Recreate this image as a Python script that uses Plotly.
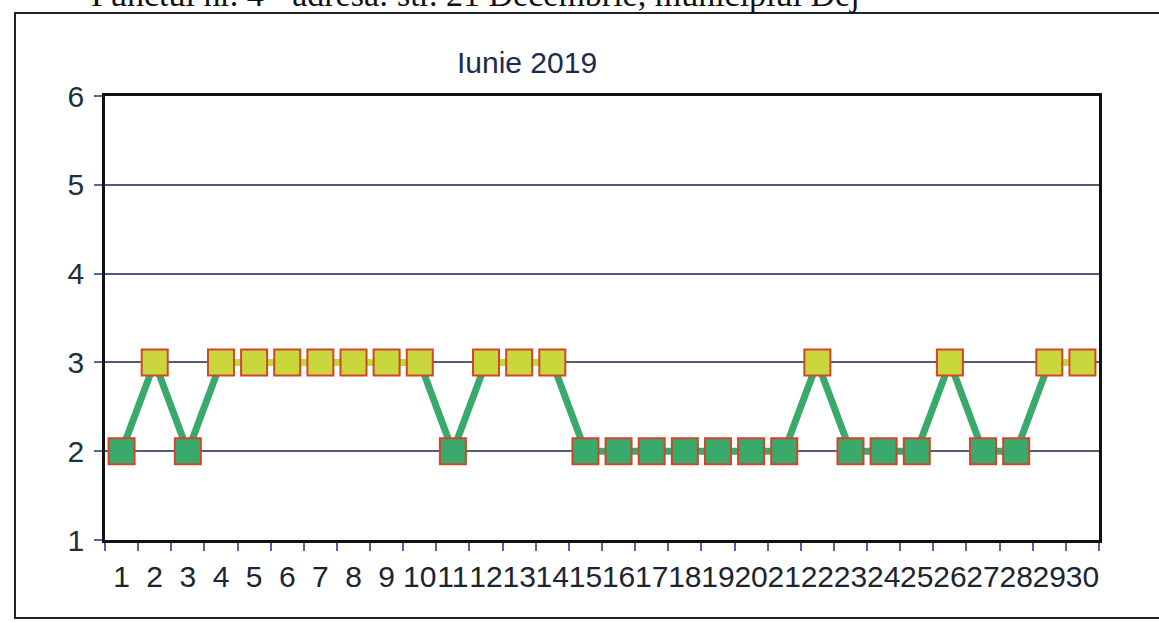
import plotly.graph_objects as go

# ---- data ----
days = [str(d) for d in range(1, 31)]
values = [2, 3, 2, 3, 3, 3, 3, 3, 3, 3,
          2, 3, 3, 3, 2, 2, 2, 2, 2, 2,
          2, 3, 2, 2, 2, 3, 2, 2, 3, 3]
y_ticks = [1, 2, 3, 4, 5, 6]
title_text = "Iunie 2019"
header_text = "Punctul nr. 4 - adresa: str. 21 Decembrie, municipiul Dej"

HIGH = 3
GREEN = "#3aaa6c"
YELLOW = "#c9d63c"
YLINE = "#c2da3a"
EDGE = "#d2452a"

# segments between two consecutive high values drawn in yellow
hi_line = []
for i, v in enumerate(values):
    prev_hi = i > 0 and values[i - 1] == HIGH
    next_hi = i < len(values) - 1 and values[i + 1] == HIGH
    hi_line.append(v if v == HIGH and (prev_hi or next_hi) else None)

marker_colors = [YELLOW if v == HIGH else GREEN for v in values]

fig = go.Figure()
fig.add_trace(go.Scatter(x=days, y=values, mode="lines",
                         line=dict(color=GREEN, width=7), hoverinfo="skip",
                         showlegend=False))
fig.add_trace(go.Scatter(x=days, y=hi_line, mode="lines", connectgaps=False,
                         line=dict(color=YLINE, width=7), hoverinfo="skip",
                         showlegend=False))
fig.add_trace(go.Scatter(x=days, y=values, mode="markers",
                         marker=dict(symbol="square", size=26, color=marker_colors,
                                     line=dict(color=EDGE, width=2)),
                         showlegend=False))

W, H = 1159, 623
L, R, T, B = 105, 60, 96, 83
pw, ph = W - L - R, H - T - B

def px(x):
    return (x - L) / pw

def py(y):
    return (H - B - y) / ph

fig.update_layout(
    width=W, height=H,
    margin=dict(l=L, r=R, t=T, b=B, pad=0),
    paper_bgcolor="white", plot_bgcolor="white",
    font=dict(family="Liberation Sans, Arial, sans-serif", color="#1b2430"),
    title=dict(text=title_text, x=px(557), xanchor="center",
               y=1 - 62 / H, yanchor="middle",
               font=dict(size=30, color="#1d2b4f")),
    xaxis=dict(type="category", tickmode="linear", tick0=0, dtick=1,
               tickson="boundaries", ticks="outside", ticklen=8,
               tickcolor="#4a6aa0", tickwidth=1.5, tickangle=0,
               showline=True, linecolor="#111111", linewidth=2.5, mirror=True,
               showgrid=False, zeroline=False, ticklabelstandoff=8,
               tickfont=dict(size=30, color="#1b2430"),
               range=[-0.5, 29.5]),
    yaxis=dict(range=[1, 6], tickmode="array", tickvals=y_ticks,
               ticks="outside", ticklen=8, tickcolor="#4a6aa0", tickwidth=1.5,
               showline=True, linecolor="#111111", linewidth=2.5, mirror=True,
               showgrid=True, gridcolor="#565b7a", gridwidth=2,
               zeroline=False, ticklabelstandoff=4,
               tickfont=dict(size=30, color="#1b3040")),
    shapes=[dict(type="rect", xref="paper", yref="paper",
                 x0=px(15), x1=px(1175), y0=py(618), y1=py(13),
                 line=dict(color="#222222", width=2), layer="below")],
    annotations=[dict(text=header_text, xref="paper", yref="paper",
                      x=px(862), xanchor="right", y=py(15), yanchor="bottom",
                      showarrow=False,
                      font=dict(family="Liberation Serif, Times New Roman, serif",
                                size=34, color="#111111"))],
)

fig.write_html("out.html", config={"displayModeBar": False},
               post_script="document.body.style.margin='0';document.body.style.padding='0';")
